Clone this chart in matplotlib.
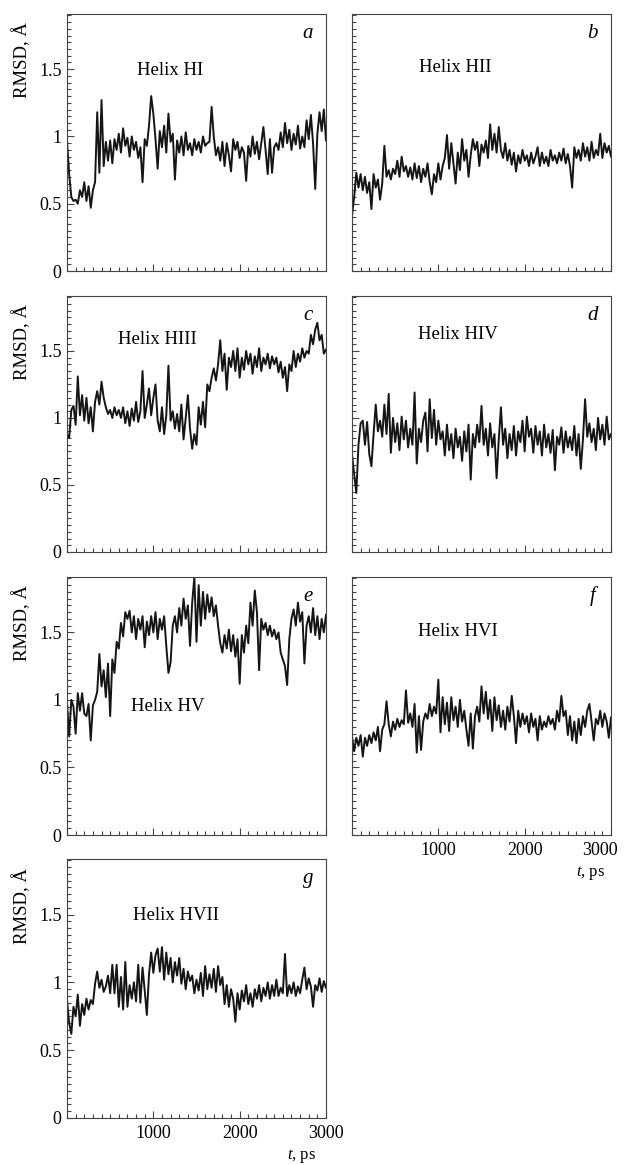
import numpy as np
import matplotlib.pyplot as plt
import matplotlib.transforms as mtransforms
from matplotlib.ticker import MultipleLocator

plt.rcParams['font.family'] = ['Liberation Serif', 'DejaVu Serif']
plt.rcParams['mathtext.fontset'] = 'custom'
plt.rcParams['mathtext.rm'] = 'Liberation Serif'
plt.rcParams['mathtext.it'] = 'Liberation Serif:italic'

# Время, пс (шаг 25 пс)
t = np.arange(0, 3001, 25)

# RMSD, Å для каждой спирали
rmsd_h1 = [0.97, 0.72, 0.55, 0.52, 0.53, 0.50, 0.60, 0.55, 0.66, 0.52, 0.63, 0.47, 0.60, 0.66, 1.18, 0.73,
           1.27, 0.78, 0.96, 0.82, 0.97, 0.80, 0.98, 0.90, 1.02, 0.88, 1.06, 0.93, 0.99, 0.85, 1.00, 0.90,
           0.96, 0.84, 0.92, 0.66, 0.98, 0.93, 1.08, 1.30, 1.17, 0.98, 0.76, 1.04, 0.92, 1.08, 0.88, 1.17,
           0.96, 1.02, 0.68, 0.97, 0.88, 1.00, 0.86, 1.03, 0.90, 0.95, 0.86, 0.98, 0.90, 0.96, 0.88, 1.00,
           0.93, 0.95, 0.96, 1.22, 1.00, 0.86, 0.92, 0.82, 0.96, 0.78, 0.95, 0.86, 0.74, 0.98, 0.90, 0.96,
           0.84, 0.92, 0.88, 0.67, 0.93, 0.85, 1.00, 0.87, 0.96, 0.83, 0.95, 1.07, 0.90, 0.72, 0.98, 0.73,
           0.92, 0.95, 0.90, 1.03, 0.92, 1.10, 0.95, 1.05, 0.90, 1.02, 0.94, 1.08, 0.91, 1.00, 0.92, 1.12,
           0.98, 1.16, 0.95, 0.61, 1.02, 1.18, 1.04, 1.20, 0.97]

rmsd_h2 = [0.41, 0.55, 0.73, 0.62, 0.72, 0.60, 0.70, 0.58, 0.66, 0.46, 0.72, 0.62, 0.68, 0.53, 0.65, 0.93,
           0.70, 0.75, 0.68, 0.76, 0.72, 0.82, 0.70, 0.85, 0.74, 0.78, 0.70, 0.77, 0.68, 0.80, 0.69, 0.78,
           0.66, 0.76, 0.70, 0.80, 0.66, 0.57, 0.72, 0.66, 0.80, 0.68, 0.78, 0.84, 1.01, 0.76, 0.95, 0.80,
           0.65, 0.88, 0.75, 0.98, 0.82, 0.90, 0.70, 0.86, 0.98, 0.90, 0.96, 0.78, 0.94, 0.88, 0.97, 0.84,
           1.09, 0.90, 1.02, 0.88, 1.07, 0.90, 0.84, 0.95, 0.82, 0.90, 0.79, 0.88, 0.74, 0.86, 0.80, 0.90,
           0.82, 0.86, 0.78, 0.88, 0.80, 0.85, 0.92, 0.78, 0.88, 0.80, 0.85, 0.78, 0.90, 0.82, 0.86, 0.80,
           0.88, 0.82, 0.91, 0.80, 0.87, 0.78, 0.62, 0.92, 0.84, 0.90, 0.82, 0.95, 0.85, 0.92, 0.82, 0.96,
           0.84, 0.90, 0.86, 1.02, 0.84, 0.95, 0.88, 0.93, 0.85]

rmsd_h3 = [0.88, 0.85, 1.06, 1.09, 0.95, 1.31, 1.02, 1.17, 0.98, 1.15, 0.96, 1.08, 0.90, 1.12, 1.20, 1.10,
           1.27, 1.15, 1.08, 1.03, 1.06, 1.00, 1.08, 1.02, 1.06, 1.00, 1.08, 0.96, 1.05, 0.94, 1.07, 0.98,
           1.12, 0.97, 1.05, 1.35, 1.00, 1.10, 1.22, 1.02, 1.15, 1.25, 0.98, 0.90, 1.08, 0.88, 1.02, 1.39,
           0.98, 1.05, 0.92, 1.03, 0.90, 1.10, 0.84, 1.00, 1.17, 0.92, 0.77, 0.88, 0.80, 1.08, 0.95, 1.12,
           0.93, 1.25, 1.20, 1.30, 1.37, 1.28, 1.40, 1.58, 1.35, 1.48, 1.21, 1.45, 1.38, 1.50, 1.35, 1.52,
           1.30, 1.45, 1.36, 1.50, 1.40, 1.48, 1.33, 1.46, 1.38, 1.52, 1.35, 1.45, 1.40, 1.48, 1.37, 1.46,
           1.40, 1.45, 1.34, 1.42, 1.30, 1.38, 1.20, 1.40, 1.35, 1.50, 1.38, 1.48, 1.42, 1.52, 1.45, 1.50,
           1.48, 1.62, 1.55, 1.66, 1.71, 1.58, 1.62, 1.48, 1.51]

rmsd_h4 = [0.73, 0.58, 0.44, 0.80, 0.96, 0.98, 0.80, 0.97, 0.73, 0.64, 0.88, 1.10, 0.90, 0.98, 0.86, 1.10,
           0.88, 1.18, 0.74, 1.00, 0.82, 0.96, 0.76, 1.01, 0.84, 0.98, 0.78, 0.92, 0.80, 1.19, 0.66, 0.92,
           0.82, 0.98, 1.04, 0.75, 1.14, 0.85, 1.06, 0.80, 0.98, 0.84, 0.90, 0.72, 0.95, 0.76, 0.88, 0.70,
           0.92, 0.78, 0.86, 0.68, 0.90, 0.75, 0.95, 0.54, 0.88, 0.78, 0.95, 0.82, 1.09, 0.80, 0.92, 0.72,
           0.96, 0.78, 0.88, 0.55, 0.84, 1.08, 0.80, 0.92, 0.70, 0.88, 0.76, 0.94, 0.72, 0.90, 0.82, 0.98,
           0.75, 1.01, 0.86, 0.92, 0.74, 0.94, 0.80, 0.90, 0.72, 0.95, 0.78, 0.88, 0.74, 0.91, 0.61, 0.86,
           0.80, 0.93, 0.74, 0.90, 0.78, 0.86, 0.76, 0.94, 0.72, 0.88, 0.62, 0.84, 1.14, 0.86, 0.96, 0.82,
           0.92, 0.76, 1.00, 0.84, 0.95, 0.80, 1.01, 0.84, 0.88]

rmsd_h5 = [0.98, 0.73, 1.00, 0.95, 0.75, 1.05, 0.92, 1.05, 0.90, 0.88, 0.97, 0.70, 0.96, 1.00, 1.06, 1.34,
           1.10, 1.22, 1.02, 1.27, 0.88, 1.30, 1.20, 1.43, 1.38, 1.57, 1.47, 1.65, 1.60, 1.66, 1.50, 1.62,
           1.45, 1.60, 1.52, 1.62, 1.39, 1.58, 1.48, 1.62, 1.50, 1.65, 1.45, 1.60, 1.52, 1.62, 1.40, 1.20,
           1.28, 1.55, 1.62, 1.50, 1.68, 1.55, 1.75, 1.60, 1.70, 1.40, 1.72, 1.91, 1.43, 1.85, 1.55, 1.80,
           1.60, 1.78, 1.65, 1.76, 1.62, 1.70, 1.55, 1.42, 1.35, 1.48, 1.38, 1.52, 1.36, 1.48, 1.32, 1.45,
           1.12, 1.48, 1.35, 1.55, 1.42, 1.72, 1.55, 1.81, 1.65, 1.22, 1.60, 1.52, 1.57, 1.48, 1.55, 1.47,
           1.52, 1.45, 1.50, 1.35, 1.30, 1.25, 1.11, 1.45, 1.60, 1.67, 1.55, 1.72, 1.58, 1.65, 1.27, 1.55,
           1.62, 1.50, 1.68, 1.48, 1.62, 1.45, 1.60, 1.50, 1.63]

rmsd_h6 = [0.73, 0.62, 0.72, 0.66, 0.74, 0.58, 0.72, 0.66, 0.74, 0.68, 0.76, 0.70, 0.80, 0.62, 0.78, 0.82,
           0.99, 0.82, 0.73, 0.84, 0.78, 0.86, 0.80, 0.85, 0.82, 1.07, 0.83, 0.90, 0.80, 0.97, 0.61, 0.88,
           0.63, 0.84, 0.90, 0.86, 0.97, 0.88, 0.95, 0.90, 1.15, 0.76, 1.02, 0.82, 0.98, 0.77, 1.02, 0.85,
           0.95, 0.80, 1.00, 0.84, 0.92, 0.78, 0.66, 0.90, 0.64, 0.88, 0.95, 0.84, 1.10, 0.90, 1.06, 0.86,
           1.00, 0.77, 1.02, 0.85, 0.96, 0.80, 0.92, 0.78, 0.95, 0.84, 1.03, 0.88, 0.68, 0.92, 0.80, 0.90,
           0.82, 0.88, 0.76, 0.90, 0.80, 0.86, 0.70, 0.88, 0.78, 0.84, 0.80, 0.88, 0.82, 0.86, 0.78, 0.92,
           0.84, 1.03, 0.88, 0.92, 0.74, 0.88, 0.70, 0.84, 0.68, 0.86, 0.74, 0.88, 0.80, 0.92, 0.97, 0.84,
           0.70, 0.86, 0.82, 0.92, 0.80, 0.90, 0.84, 0.72, 0.87]

rmsd_h7 = [0.87, 0.70, 0.62, 0.82, 0.75, 0.91, 0.68, 0.84, 0.76, 0.88, 0.80, 0.87, 0.84, 0.99, 1.08, 0.96,
           1.02, 0.93, 0.97, 1.05, 0.92, 1.13, 0.92, 1.13, 0.82, 1.04, 0.80, 1.15, 0.82, 0.98, 0.88, 1.00,
           0.86, 1.13, 0.85, 1.11, 0.94, 0.76, 1.06, 1.22, 1.07, 1.20, 1.25, 1.08, 1.26, 1.02, 1.22, 1.06,
           1.18, 1.00, 1.15, 1.05, 1.18, 0.99, 1.10, 0.95, 1.08, 1.01, 1.05, 0.92, 1.02, 0.94, 1.07, 0.90,
           1.12, 0.95, 1.06, 0.96, 1.10, 0.93, 1.12, 0.98, 1.04, 0.84, 0.98, 0.82, 0.95, 0.88, 0.71, 0.92,
           0.80, 0.94, 0.86, 0.98, 0.84, 0.92, 0.82, 0.95, 0.88, 0.98, 0.86, 0.96, 0.90, 1.00, 0.88, 0.98,
           0.90, 1.02, 0.90, 0.96, 0.92, 1.21, 0.90, 0.98, 0.92, 1.00, 0.90, 0.97, 0.92, 1.02, 1.11, 0.95,
           1.03, 0.97, 0.82, 0.98, 0.94, 1.03, 0.93, 1.01, 0.96]

series = [rmsd_h1, rmsd_h2, rmsd_h3, rmsd_h4, rmsd_h5, rmsd_h6, rmsd_h7]
names = ['Helix HI', 'Helix HII', 'Helix HIII', 'Helix HIV', 'Helix HV', 'Helix HVI', 'Helix HVII']
letters = ['a', 'b', 'c', 'd', 'e', 'f', 'g']
# положение подписи "Helix ..." в долях осей
name_pos = [(0.40, 0.78), (0.40, 0.79), (0.35, 0.83), (0.41, 0.85), (0.39, 0.50), (0.41, 0.79), (0.42, 0.78)]

fig = plt.figure(figsize=(6.24, 11.65), dpi=100)

W, H = 624, 1165
lefts = [67, 352]
tops = [14, 296, 577, 859]
bottoms = [271, 552, 835, 1118]

for i, y in enumerate(series):
    row, col = i // 2, i % 2
    ax = fig.add_axes([lefts[col] / W, 1 - bottoms[row] / H, 259 / W, (bottoms[row] - tops[row]) / H])
    ax.plot(t, y, color='#151515', lw=1.4)
    ax.set_xlim(0, 3000)
    ax.set_ylim(0, 1.91)

    ax.xaxis.set_major_locator(MultipleLocator(1000))
    ax.xaxis.set_minor_locator(MultipleLocator(100))
    ax.yaxis.set_major_locator(MultipleLocator(0.5))
    ax.yaxis.set_minor_locator(MultipleLocator(0.05))
    ax.tick_params(which='both', direction='in', color='#444444', width=0.8, labelsize=13)
    ax.tick_params(which='major', length=5)
    ax.tick_params(which='minor', length=3)
    ax.tick_params(axis='y', pad=4)
    ax.tick_params(axis='x', pad=5)
    ax.yaxis.set_major_formatter(plt.FuncFormatter(lambda v, p: '%g' % v))
    for s in ax.spines.values():
        s.set_color('#444444')
        s.set_linewidth(0.8)

    if col == 0:
        ax.text(-0.174, 0.82, 'RMSD, Å', transform=ax.transAxes, rotation=90,
                ha='center', va='center', fontsize=13.5)
    else:
        ax.tick_params(axis='y', labelleft=False)

    if i in (5, 6):
        ax.set_xticks([1000, 2000, 3000])
        xt = 0.92 if i == 5 else 0.907
        ax.text(xt, -0.148, '$t$, ps', transform=ax.transAxes, ha='center', va='center', fontsize=12)
        if i == 5:
            # сдвигаем "3000" чуть влево, чтобы подпись не обрезалась краем
            shift = mtransforms.ScaledTranslation(-8 / 72, 0, fig.dpi_scale_trans)
            lbl = ax.get_xticklabels()[-1]
            lbl.set_transform(lbl.get_transform() + shift)
    else:
        ax.tick_params(axis='x', labelbottom=False)

    nx, ny = name_pos[i]
    ax.text(nx, ny, names[i], transform=ax.transAxes, ha='center', va='center', fontsize=13.5)
    ax.text(0.93, 0.925, letters[i], transform=ax.transAxes, ha='center', va='center',
            fontsize=15, fontstyle='italic')

plt.savefig('out.png', dpi=100)
